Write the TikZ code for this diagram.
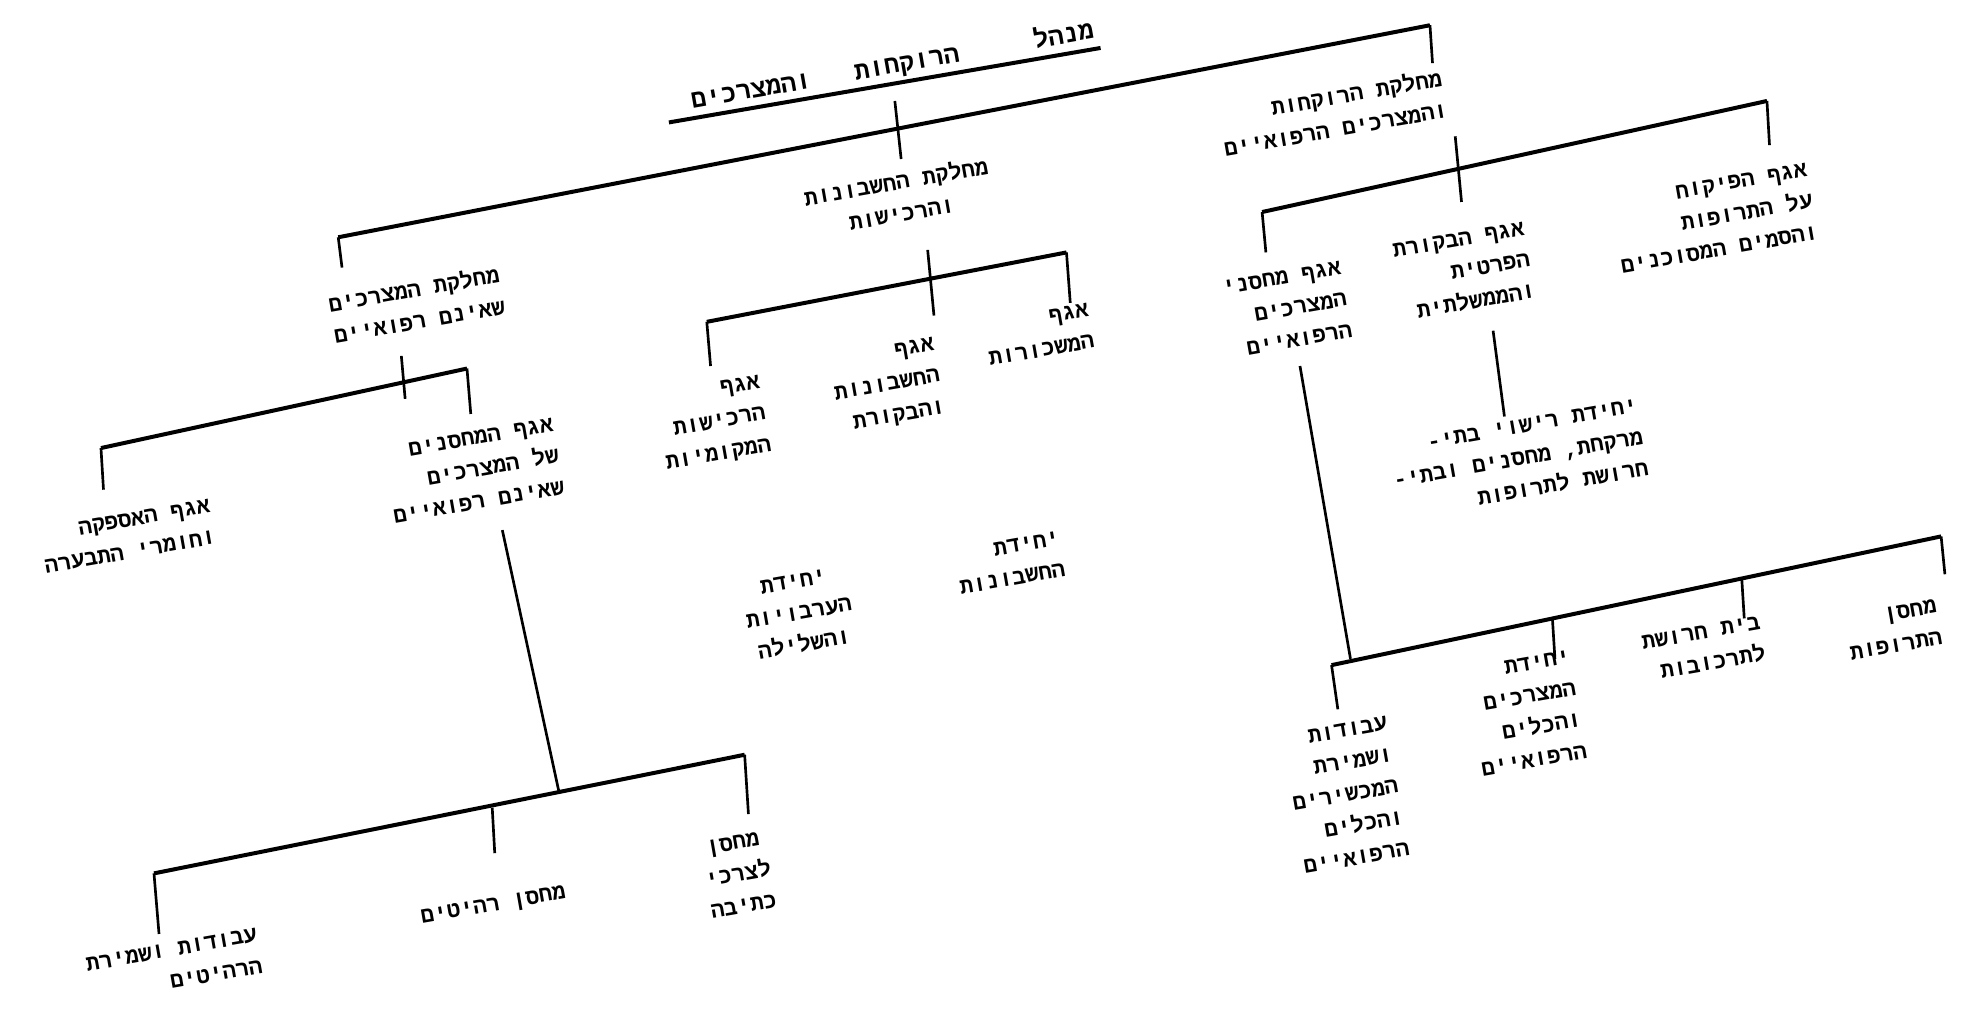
\documentclass[tikz,border=0pt]{standalone}
\usepackage{fontspec}
\newfontfamily\hebfont[Script=Hebrew]{Liberation Mono}
\TeXXeTstate=1
% each letter set on its own, so that it follows the tilt
\newif\ifupletter
\def\endletters{}
\def\eachletter#1{\ifx#1\endletters\else
  \ifupletter\raise0.03pt\hbox{#1}\upletterfalse\else\hbox{#1}\uplettertrue\fi
  \expandafter\eachletter\fi}
\def\spreadword#1 #2\endwords{\eachletter#1\endletters\ifx\relax#2\relax\else\space\spreadword#2\endwords\fi}
\newcommand{\spread}[1]{\spreadword#1 \endwords}
\newcommand{\rtline}[1]{\beginR\spread{#1}\endR}
\newcommand{\hebtext}{\hebfont\bfseries\fontsize{5}{7.2}\selectfont}

\begin{document}
\begin{tikzpicture}[
    x=0.1mm, y=-0.1mm,
    every node/.style={rotate=10, align=right, inner sep=1pt, font=\hebtext},
    headline/.style={font=\hebtext\fontsize{5.7}{7}\selectfont},
    centered/.style={align=center},
    bar/.style={line width=0.9pt},
    stem/.style={line width=0.6pt}
]
    \useasboundingbox[fill=white] (0,0) rectangle (1568,799);

    % Head of the administration
    \node[headline] (head) at (707,52) {\beginR\spread{מנהל}\hspace{6mm}\spread{הרוקחות}\hspace{3.5mm}\spread{והמצרכים}\endR};

    % Departments
    \node[centered] (nonmed) at (330,241) {\rtline{מחלקת המצרכים}\\\rtline{שאינם רפואיים}};
    \node[centered] (accounts) at (712,156) {\rtline{מחלקת החשבונות}\\\rtline{והרכישות}};
    \node (pharm) at (1056,89) {\rtline{מחלקת הרוקחות}\\\rtline{והמצרכים הרפואיים}};

    % Pharmacy department
    \node (supervis) at (1358,173) {\rtline{אגף הפיקוח}\\\rtline{על התרופות}\\\rtline{והסמים המסוכנים}};
    \node (audit) at (1160,215) {\rtline{אגף הבקורת}\\\rtline{הפרטית}\\\rtline{והממשלתית}};
    \node (medstores) at (1020,245) {\rtline{אגף מחסני}\\\rtline{המצרכים}\\\rtline{הרפואיים}};
    \node (licensing) at (1203,364) {\rtline{יחידת רישוי בתי-}\\\rtline{מרקחת, מחסנים ובתי-}\\\rtline{חרושת לתרופות}};
    \node (medwh) at (1500,499) {\rtline{מחסן}\\\rtline{התרופות}};
    \node (factory) at (1350,514) {\rtline{בית חרושת}\\\rtline{לתרכובות}};
    \node (equipunit) at (1209,565) {\rtline{יחידת}\\\rtline{המצרכים}\\\rtline{והכלים}\\\rtline{הרפואיים}};
    \node (maint) at (1066,630) {\rtline{עבודות}\\\rtline{ושמירת}\\\rtline{המכשירים}\\\rtline{והכלים}\\\rtline{הרפואיים}};

    % Accounts and purchasing department
    \node (salaries) at (823,265) {\rtline{אגף}\\\rtline{המשכורות}};
    \node (accaudit) at (703,306) {\rtline{אגף}\\\rtline{החשבונות}\\\rtline{והבקורת}};
    \node (purchase) at (565,336) {\rtline{אגף}\\\rtline{הרכישות}\\\rtline{המקומיות}};
    \node (accunit) at (800,446) {\rtline{יחידת}\\\rtline{החשבונות}};
    \node[centered] (guarunit) at (633,486) {\rtline{יחידת}\\\rtline{הערבויות}\\\rtline{והשלילה}};

    % Non-medical goods department
    \node (stores) at (375,373) {\rtline{אגף המחסנים}\\\rtline{של המצרכים}\\\rtline{שאינם רפואיים}};
    \node (supply) at (101,425) {\rtline{אגף האספקה}\\\rtline{וחומרי התבערה}};
    \node (furnwork) at (138,765) {\rtline{עבודות ושמירת}\\\rtline{הרהיטים}};
    \node (furnstore) at (391,718) {\rtline{מחסן רהיטים}};
    \node[centered] (stationery) at (585,693) {\rtline{מחסן}\\\rtline{לצרכי}\\\rtline{כתיבה}};

    % Bar ends and stems
    \coordinate (headL) at (530,97);
    \coordinate (headR) at (872,38);
    \coordinate (headTop) at (709,80);
    \coordinate (headBot) at (714,126);
    \coordinate (mainL) at (268,188);
    \coordinate (mainR) at (1133,20);
    \coordinate (nonmedIn) at (271,212);
    \coordinate (pharmIn) at (1135,50);

    \coordinate (pharmTop) at (1153,108);
    \coordinate (pharmBot) at (1158,160);
    \coordinate (phL) at (1000,168);
    \coordinate (phR) at (1400,80);
    \coordinate (medstoresIn) at (1003,200);
    \coordinate (supervisIn) at (1402,115);
    \coordinate (auditOut) at (1183,262);
    \coordinate (licensingIn) at (1192,330);
    \coordinate (medstoresOut) at (1030,290);
    \coordinate (lrJoin) at (1070,522);
    \coordinate (lrL) at (1055,527);
    \coordinate (lrR) at (1538,425);
    \coordinate (maintIn) at (1060,562);
    \coordinate (equipTop) at (1230,490);
    \coordinate (equipIn) at (1232,522);
    \coordinate (factoryTop) at (1380,458);
    \coordinate (factoryIn) at (1382,490);
    \coordinate (medwhIn) at (1541,455);

    \coordinate (accTop) at (735,198);
    \coordinate (accBot) at (740,250);
    \coordinate (acL) at (560,255);
    \coordinate (acR) at (845,200);
    \coordinate (purchaseIn) at (563,290);
    \coordinate (salariesIn) at (848,240);

    \coordinate (nonmedTop) at (318,282);
    \coordinate (nonmedBot) at (321,316);
    \coordinate (lfL) at (80,355);
    \coordinate (lfR) at (370,292);
    \coordinate (supplyIn) at (82,388);
    \coordinate (storesIn) at (373,328);
    \coordinate (storesOut) at (398,420);
    \coordinate (llJoin) at (443,628);
    \coordinate (llL) at (122,692);
    \coordinate (llR) at (590,598);
    \coordinate (furnworkIn) at (126,740);
    \coordinate (furnTop) at (390,640);
    \coordinate (furnIn) at (392,676);
    \coordinate (stationeryIn) at (593,645);

    % Lines
    \draw[bar] (headL) -- (headR);
    \draw[stem] (headTop) -- (headBot);
    \draw[bar] (mainL) -- (mainR);
    \draw[stem] (mainL) -- (nonmedIn);
    \draw[stem] (mainR) -- (pharmIn);

    \draw[stem] (pharmTop) -- (pharmBot);
    \draw[bar] (phL) -- (phR);
    \draw[stem] (phL) -- (medstoresIn);
    \draw[stem] (phR) -- (supervisIn);
    \draw[stem] (auditOut) -- (licensingIn);
    \draw[stem] (medstoresOut) -- (lrJoin);
    \draw[bar] (lrL) -- (lrR);
    \draw[stem] (lrL) -- (maintIn);
    \draw[stem] (equipTop) -- (equipIn);
    \draw[stem] (factoryTop) -- (factoryIn);
    \draw[stem] (lrR) -- (medwhIn);

    \draw[stem] (accTop) -- (accBot);
    \draw[bar] (acL) -- (acR);
    \draw[stem] (acL) -- (purchaseIn);
    \draw[stem] (acR) -- (salariesIn);

    \draw[stem] (nonmedTop) -- (nonmedBot);
    \draw[bar] (lfL) -- (lfR);
    \draw[stem] (lfL) -- (supplyIn);
    \draw[stem] (lfR) -- (storesIn);
    \draw[stem] (storesOut) -- (llJoin);
    \draw[bar] (llL) -- (llR);
    \draw[stem] (llL) -- (furnworkIn);
    \draw[stem] (furnTop) -- (furnIn);
    \draw[stem] (llR) -- (stationeryIn);

\end{tikzpicture}
\end{document}
